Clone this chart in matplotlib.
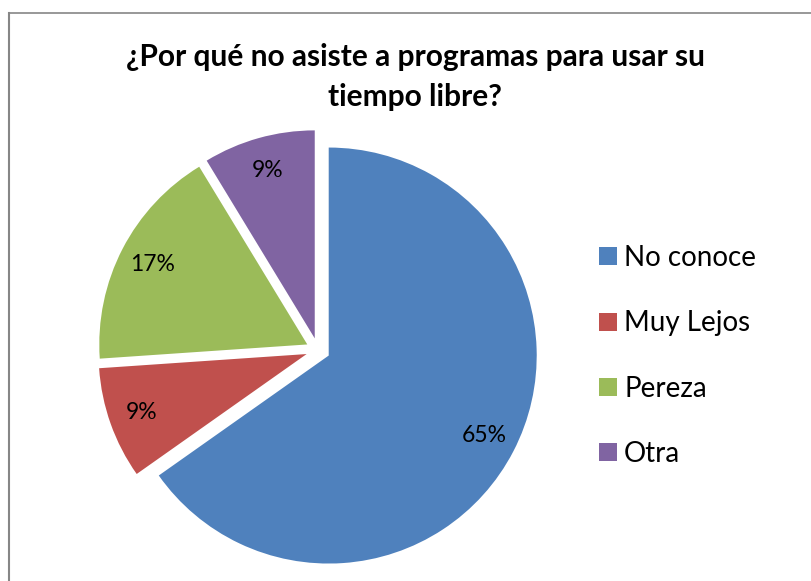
import matplotlib
matplotlib.use("Agg")
import matplotlib.pyplot as plt
from matplotlib.lines import Line2D

title = "¿Por qué no asiste a programas para usar su\ntiempo libre?"
categories = ["No conoce", "Muy Lejos", "Pereza", "Otra"]
values = [15, 2, 4, 2]
colors = ["#4F81BD", "#C0504D", "#9BBB59", "#8064A2"]

W, H = 811, 581
fig = plt.figure(figsize=(W / 100, H / 100), dpi=100)
plt.rcParams['font.family'] = ['Lato', 'DejaVu Sans']

R = 208.0
cx, cy = 318.0, 350.0
ax = fig.add_axes([0, 0, 1, 1])

wedges, texts, autotexts = ax.pie(
    values, colors=colors, startangle=90, counterclock=False,
    explode=[0.058] * len(values), radius=1.0, center=(0, 0),
    autopct='%.0f%%', pctdistance=0.84, frame=True,
    textprops=dict(fontsize=16.5, color='black'),
    wedgeprops=dict(linewidth=0))
ax.set_xlim(-cx / R, (W - cx) / R)
ax.set_ylim(-(H - cy) / R, cy / R)
ax.set_aspect('auto')
ax.axis('off')

fig.text(415 / W, 1 - 77 / H, title, ha='center', va='center',
         fontsize=21.5, fontweight='bold', linespacing=1.5)

handles = [Line2D([], [], marker='s', linestyle='none', markersize=13,
                  markerfacecolor=c, markeredgewidth=0) for c in colors]
fig.legend(handles, categories, loc='center left',
           bbox_to_anchor=(582 / W, 1 - 356 / H), frameon=False,
           fontsize=20, labelspacing=1.42, handletextpad=0.12,
           handlelength=0.9, borderpad=0)

# chart border
fig.add_artist(Line2D([8.5 / W, 8.5 / W], [0, 1 - 13 / H], color='#868686',
                      linewidth=1.5, transform=fig.transFigure))
fig.add_artist(Line2D([8.5 / W, 1], [1 - 13 / H, 1 - 13 / H], color='#868686',
                      linewidth=1.2, transform=fig.transFigure))

fig.savefig("out.png", dpi=100, facecolor='white')
